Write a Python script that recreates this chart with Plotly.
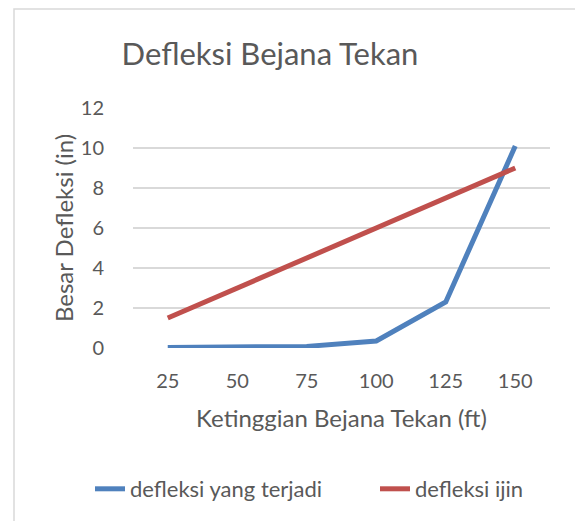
import plotly.graph_objects as go

heights = ["25", "50", "75", "100", "125", "150"]
defleksi_terjadi = [0.02, 0.03, 0.08, 0.35, 2.3, 10.1]
defleksi_ijin = [1.5, 3.0, 4.5, 6.0, 7.5, 9.0]
y_ticks = [0, 2, 4, 6, 8, 10, 12]

FONT = "Lato"
TXT = "#595959"

fig = go.Figure()
fig.add_trace(go.Scatter(x=heights, y=defleksi_terjadi, mode="lines",
                         name="defleksi yang terjadi", legend="legend",
                         line=dict(color="#4F81BD", width=5)))
fig.add_trace(go.Scatter(x=heights, y=defleksi_ijin, mode="lines",
                         name="defleksi ijin", legend="legend2",
                         line=dict(color="#C0504D", width=5)))

L, R, T, B = 133, 25, 108, 173
W, H = 575, 521
pw, ph = W - L - R, H - T - B

def px(x):
    return (x - L) / pw

def py(y):
    return (H - B - y) / ph

fig.add_shape(type="rect", xref="paper", yref="paper",
              x0=px(14), x1=px(590), y0=py(540), y1=py(9),
              line=dict(color="#D9D9D9", width=1.5), layer="below")

leg_common = dict(orientation="h", xanchor="left", y=py(489), yanchor="middle",
                  font=dict(size=22), bgcolor="rgba(0,0,0,0)")

fig.update_layout(
    width=W, height=H,
    margin=dict(l=L, r=R, t=T, b=B, autoexpand=False),
    paper_bgcolor="white", plot_bgcolor="white",
    font=dict(family=FONT, color=TXT, size=20),
    title=dict(text="Defleksi Bejana Tekan", xref="container", x=270 / W, xanchor="center",
               yref="container", y=1 - 54 / H, yanchor="middle",
               font=dict(size=31, color=TXT, family=FONT)),
    xaxis=dict(type="category", range=[-0.5, 5.5], showgrid=False, showline=False, ticks="",
               tickfont=dict(size=20), ticklabelstandoff=19, automargin=False,
               title=dict(text="Ketinggian Bejana Tekan (ft)", font=dict(size=24), standoff=19)),
    yaxis=dict(range=[0, 12], tickvals=y_ticks, showgrid=True, gridcolor="#D9D9D9",
               gridwidth=1.5, zeroline=False, showline=False, ticks="",
               tickfont=dict(size=20), ticklabelstandoff=28, automargin=False,
               title=dict(text="Besar Defleksi (in)", font=dict(size=24), standoff=0)),
    legend=dict(x=px(90), **leg_common),
    legend2=dict(x=px(375), **leg_common),
    showlegend=True,
)

fig.write_html("out.html", config={"displayModeBar": False},
               post_script="document.body.style.margin='0';")
